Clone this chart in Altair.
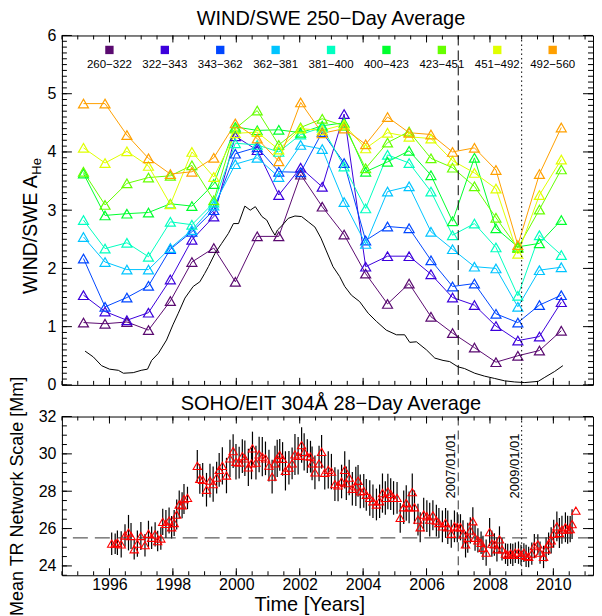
import altair as alt
import pandas as pd

FONT = "Liberation Sans"
X_DOMAIN = [1994.5, 2011.25]
Y1_DOMAIN = [0, 6]
Y2_DOMAIN = [23.5, 32]
W, H1, H2 = 532, 350, 159
GAP = 31.7

# ---------------- WIND/SWE 250-day averages ----------------
WIND_T = [1995.18, 1995.86, 1996.55, 1997.23, 1997.92, 1998.60, 1999.29, 1999.97,
          2000.66, 2001.34, 2002.03, 2002.71, 2003.40, 2004.08, 2004.77, 2005.45,
          2006.14, 2006.82, 2007.51, 2008.19, 2008.88, 2009.56, 2010.25]
BIN_LABELS = ["260−322", "322−343", "343−362", "362−381", "381−400",
              "400−423", "423−451", "451−492", "492−560"]
BIN_COLORS = ["#5a0a70", "#3c00dc", "#0046ff", "#00c4ff", "#00ffc0",
              "#00ff2e", "#66ff00", "#e0ff00", "#ffa000"]
AHE_260_322 = [1.07, 1.05, 1.08, 0.94, 1.44, 2.11, 2.35, 1.77, 2.55, 2.55, 3.61, 3.06,
               2.58, 1.91, 1.39, 1.74, 1.17, 0.89, 0.64, 0.39, 0.50, 0.59, 0.93]
AHE_322_343 = [1.54, 1.26, 1.11, 1.24, 1.81, 2.49, 2.89, 4.27, 4.03, 3.26, 3.73, 3.40,
               4.65, 2.03, 2.21, 2.21, 1.90, 1.50, 1.37, 1.01, 0.76, 0.83, 1.42]
AHE_343_362 = [2.17, 1.34, 1.50, 1.70, 2.33, 2.63, 3.00, 3.97, 4.08, 3.66, 3.65, 4.34,
               3.81, 2.48, 2.72, 2.69, 2.14, 1.69, 1.74, 1.22, 1.07, 1.37, 1.54]
AHE_362_381 = [2.54, 2.11, 1.98, 1.98, 2.35, 2.66, 3.08, 3.79, 3.90, 3.57, 4.12, 4.05,
               3.14, 2.42, 3.32, 3.41, 2.63, 2.33, 2.03, 2.00, 1.34, 1.97, 2.02]
AHE_381_400 = [2.83, 2.34, 2.44, 2.20, 2.80, 2.75, 3.13, 4.15, 4.12, 4.00, 4.30, 4.42,
               3.75, 3.03, 3.95, 3.81, 3.32, 2.57, 2.77, 2.36, 1.53, 2.57, 2.23]
AHE_400_423 = [3.63, 2.91, 2.94, 2.96, 3.11, 3.07, 3.45, 4.43, 4.37, 4.38, 4.33, 4.45,
               4.50, 3.66, 3.83, 4.02, 3.60, 2.81, 3.90, 2.69, 2.37, 2.43, 2.83]
AHE_423_451 = [3.66, 3.09, 3.46, 3.56, 3.59, 3.77, 3.17, 4.40, 4.71, 4.12, 4.42, 4.57,
               4.45, 3.72, 4.16, 4.35, 3.89, 3.73, 3.41, 2.87, 2.35, 3.01, 3.70]
AHE_451_492 = [4.07, 3.81, 4.01, 3.76, 3.10, 4.00, 3.57, 4.32, 4.34, 4.04, 4.40, 4.37,
               4.47, 4.06, 4.33, 4.26, 4.23, 3.85, 3.64, 3.37, 2.25, 3.26, 3.87]
AHE_492_560 = [4.83, 4.83, 4.29, 3.89, 3.62, 3.66, 3.90, 4.49, 4.23, 3.84, 4.85, 4.32,
               4.40, 4.13, 4.60, 4.33, 4.30, 4.00, 4.07, 3.69, 2.40, 3.62, 4.42]
SERIES = [AHE_260_322, AHE_322_343, AHE_343_362, AHE_362_381, AHE_381_400,
          AHE_400_423, AHE_423_451, AHE_451_492, AHE_492_560]

# black reference curve in the upper panel
SUN_T = [1995.23, 1995.49, 1995.75, 1996.00, 1996.28, 1996.44, 1996.75, 1997.00, 1997.20, 1997.33,
         1997.54, 1997.80, 1998.00, 1998.17, 1998.38, 1998.64, 1998.85, 1999.00, 1999.12, 1999.33,
         1999.54, 1999.75, 1999.91, 2000.07, 2000.27, 2000.44, 2000.60, 2000.81, 2000.96, 2001.12,
         2001.22, 2001.30, 2001.45, 2001.64, 2001.85, 2002.06, 2002.27, 2002.48, 2002.67, 2002.84,
         2003.05, 2003.26, 2003.42, 2003.63, 2003.89, 2004.16, 2004.42, 2004.73, 2005.05, 2005.31,
         2005.47, 2005.68, 2006.00, 2006.26, 2006.52, 2006.73, 2006.99, 2007.20, 2007.52, 2007.83,
         2008.15, 2008.46, 2008.78, 2009.10, 2009.52, 2009.73, 2010.04, 2010.30]
SUN_V = [0.58, 0.48, 0.33, 0.27, 0.25, 0.20, 0.21, 0.25, 0.27, 0.42,
         0.54, 0.77, 1.03, 1.23, 1.49, 1.69, 1.77, 1.91, 2.03, 2.26,
         2.43, 2.60, 2.77, 2.77, 3.07, 3.00, 3.06, 2.89, 2.83, 2.66,
         2.57, 2.66, 2.74, 2.86, 2.90, 2.89, 2.80, 2.71, 2.52, 2.30,
         2.03, 1.86, 1.69, 1.54, 1.43, 1.23, 1.09, 0.94, 0.86, 0.86,
         0.73, 0.74, 0.60, 0.46, 0.42, 0.40, 0.31, 0.28, 0.20, 0.15,
         0.11, 0.07, 0.05, 0.04, 0.06, 0.13, 0.23, 0.33]

# ---------------- SOHO/EIT 304 A 28-day averages ----------------
EIT_T = [1996.07, 1996.18, 1996.25, 1996.37, 1996.49, 1996.60, 1996.68, 1996.78, 1996.88, 1996.99,
         1997.12, 1997.23, 1997.33, 1997.44, 1997.52, 1997.62, 1997.68, 1997.78, 1997.88, 1997.96,
         1998.04, 1998.12, 1998.20, 1998.29, 1998.35, 1998.46, 1998.77, 1998.85, 1998.94, 1999.06,
         1999.17, 1999.27, 1999.38, 1999.46, 1999.56, 1999.69, 1999.80, 1999.90, 1999.99, 2000.09,
         2000.19, 2000.27, 2000.38, 2000.48, 2000.51, 2000.62, 2000.72, 2000.82, 2000.92, 2001.03,
         2001.13, 2001.22, 2001.29, 2001.37, 2001.46, 2001.55, 2001.66, 2001.76, 2001.85, 2001.95,
         2002.06, 2002.14, 2002.24, 2002.34, 2002.39, 2002.48, 2002.61, 2002.69, 2002.79, 2002.90,
         2003.00, 2003.11, 2003.21, 2003.32, 2003.42, 2003.47, 2003.56, 2003.66, 2003.77, 2003.84,
         2003.91, 2004.02, 2004.10, 2004.21, 2004.31, 2004.42, 2004.52, 2004.61, 2004.70, 2004.78,
         2004.87, 2004.96, 2005.07, 2005.17, 2005.28, 2005.36, 2005.45, 2005.55, 2005.62, 2005.73,
         2005.80, 2005.91, 2006.01, 2006.10, 2006.20, 2006.31, 2006.39, 2006.50, 2006.60, 2006.67,
         2006.78, 2006.88, 2006.97, 2007.07, 2007.15, 2007.23, 2007.30, 2007.38, 2007.46, 2007.53,
         2007.62, 2007.72, 2007.78, 2007.88, 2007.99, 2008.06, 2008.14, 2008.22, 2008.30, 2008.38,
         2008.49, 2008.56, 2008.65, 2008.72, 2008.80, 2008.90, 2008.98, 2009.07, 2009.14, 2009.22,
         2009.32, 2009.40, 2009.51, 2009.58, 2009.69, 2009.77, 2009.85, 2009.93, 2010.01, 2010.11,
         2010.19, 2010.27, 2010.38, 2010.45, 2010.53, 2010.59, 2010.71]
EIT_V = [25.19, 25.19, 25.24, 25.15, 25.63, 25.78, 25.60, 24.89, 25.19, 25.60,
         25.11, 25.72, 25.51, 25.69, 25.33, 25.47, 26.36, 26.25, 26.43, 26.07,
         26.30, 26.75, 27.29, 27.25, 27.58, 27.64, 29.36, 28.66, 28.61, 28.08,
         28.57, 28.38, 28.73, 29.14, 29.36, 28.84, 29.76, 30.15, 29.58, 29.53,
         29.88, 29.76, 29.28, 29.49, 30.29, 29.53, 29.97, 29.85, 29.76, 29.37,
         28.78, 29.49, 29.76, 29.94, 29.73, 29.09, 29.26, 29.49, 29.97, 29.90,
         30.47, 30.11, 29.88, 29.85, 29.49, 29.01, 29.49, 30.11, 28.99, 29.14,
         29.05, 28.38, 28.31, 28.52, 29.14, 28.43, 28.73, 28.13, 28.26, 28.56,
         27.99, 28.02, 27.81, 27.64, 27.46, 27.29, 27.46, 27.90, 27.64, 27.99,
         27.85, 27.64, 27.64, 26.57, 27.14, 27.37, 27.14, 27.95, 27.14, 26.48,
         26.07, 26.75, 26.66, 26.48, 26.71, 26.43, 26.30, 26.12, 26.30, 26.07,
         25.72, 26.12, 26.07, 26.07, 25.69, 25.15, 25.51, 25.90, 26.39, 25.51,
         25.37, 25.24, 24.97, 24.71, 25.81, 25.19, 25.15, 24.89, 25.42, 24.89,
         24.66, 24.59, 24.66, 24.59, 24.71, 24.71, 24.59, 24.71, 24.54, 24.48,
         24.66, 25.06, 25.15, 24.71, 24.48, 24.89, 25.19, 25.37, 25.72, 26.12,
         25.76, 25.94, 26.07, 25.94, 25.97, 26.24, 26.96]
EIT_ERR = [0.60, 0.55, 0.65, 0.70, 0.60, 0.95, 0.70, 0.55, 0.70, 0.75,
           0.60, 0.70, 0.60, 0.65, 0.55, 0.60, 0.70, 0.75, 0.70, 0.60,
           0.70, 0.80, 0.75, 0.70, 0.80, 0.60, 0.85, 0.80, 0.90, 0.90,
           0.90, 0.95, 0.85, 0.90, 1.00, 0.95, 1.00, 0.90, 0.95, 0.85,
           0.90, 0.95, 1.00, 0.85, 0.90, 0.90, 0.95, 1.05, 0.90, 0.85,
           0.90, 0.95, 1.00, 0.85, 0.90, 1.05, 0.90, 0.85, 1.10, 1.00,
           0.95, 1.00, 0.90, 0.85, 0.90, 0.90, 0.95, 0.90, 0.90, 1.00,
           0.95, 0.90, 0.85, 0.90, 1.00, 0.90, 0.95, 0.90, 1.05, 0.85,
           0.90, 0.90, 0.85, 0.95, 0.90, 0.85, 0.90, 1.05, 0.90, 0.95,
           0.85, 0.90, 0.85, 0.80, 0.90, 0.95, 0.85, 1.00, 0.90, 0.85,
           0.80, 0.90, 0.85, 0.90, 0.80, 0.85, 0.80, 0.85, 0.80, 0.90,
           0.75, 0.85, 0.80, 0.70, 0.75, 0.70, 0.80, 0.70, 0.75, 0.70,
           0.65, 0.60, 0.65, 0.70, 0.75, 0.70, 0.60, 0.65, 0.70, 0.60,
           0.55, 0.60, 0.55, 0.60, 0.55, 0.60, 0.55, 0.50, 0.60, 0.55,
           0.60, 0.65, 0.55, 0.60, 0.60, 0.65, 0.60, 0.70, 0.75, 0.80,
           0.80, 0.75, 0.80, 0.75, 0.70, 0.80, 0.00]
EIT_REF = 25.5
MARKER_T = [2007.0, 2009.0]
MARKER_LABELS = ["2007/01/01", "2009/01/01"]
TITLE_TOP = "WIND/SWE 250−Day Average"
TITLE_BOTTOM = "SOHO/EIT 304Å 28−Day Average"

# tick values
X_MAJOR = [1996, 1998, 2000, 2002, 2004, 2006, 2008, 2010]
X_MINOR = [1994.5 + 0.5 * i for i in range(34)]
Y1_MAJOR = [0, 1, 2, 3, 4, 5, 6]
Y1_MINOR = [round(0.1 * i, 1) for i in range(61)]
Y2_MAJOR = [24, 26, 28, 30, 32]
Y2_MINOR = [23.5 + 0.5 * i for i in range(18)]

# ---------------- tables ----------------
wind = pd.DataFrame([{"t": t, "v": v, "bin": lab}
                     for lab, vals in zip(BIN_LABELS, SERIES)
                     for t, v in zip(WIND_T, vals)])
sun = pd.DataFrame({"t": SUN_T, "v": SUN_V})
legend_df = pd.DataFrame({"bin": BIN_LABELS})
eit = pd.DataFrame({"t": EIT_T, "v": EIT_V,
                    "lo": [v - e for v, e in zip(EIT_V, EIT_ERR)],
                    "hi": [v + e for v, e in zip(EIT_V, EIT_ERR)]})
markers = pd.DataFrame({"t": MARKER_T, "label": MARKER_LABELS})
m07 = markers.iloc[[0]]
m09 = markers.iloc[[1]]


def scale(domain):
    return alt.Scale(domain=domain, nice=False, zero=False)


def tick_layers(xvals, yvals, ydom, height, xlen, ylen):
    """Inward frame ticks: x ticks on bottom/top edges, y ticks on left/right edges."""
    dy = (ydom[1] - ydom[0]) / height * xlen      # tick length in data units (vertical)
    dx = (X_DOMAIN[1] - X_DOMAIN[0]) / W * ylen   # tick length in data units (horizontal)
    xt = pd.DataFrame({"t": xvals})
    xt["b0"], xt["b1"] = ydom[0], ydom[0] + dy
    xt["t0"], xt["t1"] = ydom[1], ydom[1] - dy
    yt = pd.DataFrame({"t": yvals})
    yt["l0"], yt["l1"] = X_DOMAIN[0], X_DOMAIN[0] + dx
    yt["r0"], yt["r1"] = X_DOMAIN[1], X_DOMAIN[1] - dx
    out = []
    for a, b in (("b0", "b1"), ("t0", "t1")):
        out.append(alt.Chart(xt).mark_rule(color="black", strokeWidth=1).encode(
            x=alt.X("t:Q", scale=scale(X_DOMAIN), axis=None),
            y=alt.Y(f"{a}:Q", scale=scale(ydom), axis=None),
            y2=f"{b}:Q"))
    for a, b in (("l0", "l1"), ("r0", "r1")):
        out.append(alt.Chart(yt).mark_rule(color="black", strokeWidth=1).encode(
            y=alt.Y("t:Q", scale=scale(ydom), axis=None),
            x=alt.X(f"{a}:Q", scale=scale(X_DOMAIN), axis=None),
            x2=f"{b}:Q"))
    return out


def text_layer(txt, x, y, size, angle=0, align="center"):
    return alt.Chart(pd.DataFrame({"s": [txt]})).mark_text(
        font=FONT, fontSize=size, angle=angle, align=align, baseline="alphabetic",
        color="black").encode(x=alt.value(x), y=alt.value(y), text="s:N")


color = alt.Color("bin:N", scale=alt.Scale(domain=BIN_LABELS, range=BIN_COLORS), legend=None)

# ---------------- upper panel ----------------
lines = alt.Chart(wind).mark_line(strokeWidth=1).encode(
    x=alt.X("t:Q", scale=scale(X_DOMAIN), axis=None),
    y=alt.Y("v:Q", scale=scale(Y1_DOMAIN), axis=alt.Axis(
        orient="left", values=Y1_MAJOR, tickSize=0, labelPadding=6, labelFontSize=16,
        format="d", domain=False, grid=False, title=None)),
    color=color,
)
tris = alt.Chart(wind).mark_point(shape="triangle-up", filled=False, size=100,
                                  strokeWidth=1.2, opacity=1).encode(
    x=alt.X("t:Q", scale=scale(X_DOMAIN), axis=None),
    y=alt.Y("v:Q", scale=scale(Y1_DOMAIN), axis=None),
    color=color,
)
sun_line = alt.Chart(sun).mark_line(color="black", strokeWidth=1).encode(
    x=alt.X("t:Q", scale=scale(X_DOMAIN), axis=None),
    y=alt.Y("v:Q", scale=scale(Y1_DOMAIN), axis=None),
)
v07 = alt.Chart(m07).mark_rule(color="black", strokeWidth=1, strokeDash=[10, 5]).encode(
    x=alt.X("t:Q", scale=scale(X_DOMAIN), axis=None))
v09 = alt.Chart(m09).mark_rule(color="black", strokeWidth=1, strokeDash=[1.5, 3]).encode(
    x=alt.X("t:Q", scale=scale(X_DOMAIN), axis=None))
leg_x = alt.X("bin:N", sort=BIN_LABELS,
              scale=alt.Scale(type="point", domain=BIN_LABELS, range=[47.6, 491.6], padding=0),
              axis=None)
leg_sq = alt.Chart(legend_df).mark_square(size=70, filled=True, opacity=1).encode(
    x=leg_x, y=alt.value(14.5), color=color)
leg_tx = alt.Chart(legend_df).mark_text(font=FONT, fontSize=11.5, color="black",
                                        baseline="middle").encode(
    x=leg_x, y=alt.value(29.5), text="bin:N")

top = alt.layer(
    lines, tris, sun_line, v07, v09,
    *tick_layers(X_MINOR, Y1_MINOR, Y1_DOMAIN, H1, 4, 5),
    *tick_layers(X_MAJOR, Y1_MAJOR, Y1_DOMAIN, H1, 7, 10),
    leg_sq, leg_tx,
    text_layer("WIND/SWE A", -24.7, 259, 19.5, angle=270, align="left"),
    text_layer("He", -20.5, 139.5, 13, angle=270, align="left"),
    text_layer(TITLE_TOP, 269.5, -10, 20),
).resolve_scale(x="independent", y="independent").properties(width=W, height=H1)

# ---------------- lower panel ----------------
errbars = alt.Chart(eit).mark_rule(color="black", strokeWidth=1.2).encode(
    x=alt.X("t:Q", scale=scale(X_DOMAIN), axis=alt.Axis(
        orient="bottom", values=X_MAJOR, tickSize=0, labelPadding=1, labelFontSize=16,
        format="d", domain=False, grid=False, title="Time [Years]", titleFontSize=20,
        titleFontWeight="normal", titlePadding=2, titleX=247.8)),
    y=alt.Y("lo:Q", scale=scale(Y2_DOMAIN), axis=alt.Axis(
        orient="left", values=Y2_MAJOR, tickSize=0, labelPadding=6, labelFontSize=16,
        format="d", domain=False, grid=False, title="Mean TR Network Scale [Mm]",
        titleFontSize=18, titleFontWeight="normal", titleX=-35, titleY=H2 / 2)),
    y2="hi:Q",
)
ref = alt.Chart(pd.DataFrame({"r": [EIT_REF]})).mark_rule(
    color="#333333", strokeWidth=1, strokeDash=[15, 7]).encode(
    y=alt.Y("r:Q", scale=scale(Y2_DOMAIN), axis=None))
w07 = alt.Chart(m07).mark_rule(color="#333333", strokeWidth=1, strokeDash=[9, 5]).encode(
    x=alt.X("t:Q", scale=scale(X_DOMAIN), axis=None))
w09 = alt.Chart(m09).mark_rule(color="black", strokeWidth=1, strokeDash=[1.5, 3]).encode(
    x=alt.X("t:Q", scale=scale(X_DOMAIN), axis=None))
tris2 = alt.Chart(eit).mark_point(shape="triangle-up", filled=False, size=70, color="red",
                                  strokeWidth=1.1, opacity=1).encode(
    x=alt.X("t:Q", scale=scale(X_DOMAIN), axis=None),
    y=alt.Y("v:Q", scale=scale(Y2_DOMAIN), axis=None),
)
mlabels = alt.Chart(markers).mark_text(font=FONT, fontSize=13, angle=270, align="right",
                                       baseline="alphabetic", dy=-3, color="black").encode(
    x=alt.X("t:Q", scale=scale(X_DOMAIN), axis=None), y=alt.value(17), text="label:N")

bottom = alt.layer(
    errbars, ref, w07, w09,
    *tick_layers(X_MINOR, Y2_MINOR, Y2_DOMAIN, H2, 4, 5),
    *tick_layers(X_MAJOR, Y2_MAJOR, Y2_DOMAIN, H2, 7, 10),
    tris2, mlabels,
    text_layer(TITLE_BOTTOM, 269.5, -6.5, 20),
).resolve_scale(x="independent", y="independent").properties(width=W, height=H2)

chart = alt.vconcat(top, bottom, spacing=GAP, bounds="flush").properties(
    padding={"left": 0, "top": 0, "right": 0, "bottom": 0}
).configure_view(stroke="black", strokeWidth=1).configure_axis(
    labelFont=FONT, titleFont=FONT, labelColor="black", titleColor="black", grid=False
)

chart.save("out.html", embed_options={"renderer": "svg", "actions": False})
